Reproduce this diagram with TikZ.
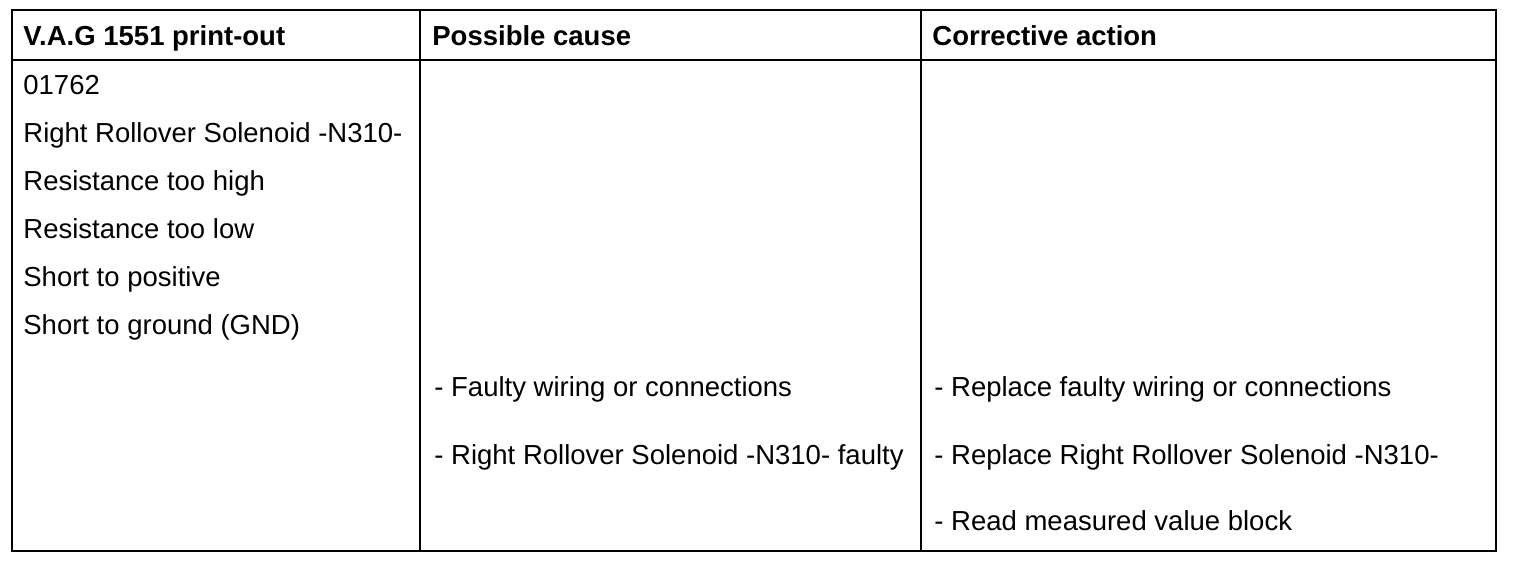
\documentclass[tikz,border=0pt]{standalone}
\usepackage{fontspec}
\setmainfont{Liberation Sans}
\usetikzlibrary{calc}
\newcommand{\cellfont}{\fontsize{13.75}{16}\selectfont}
\begin{document}
\begin{tikzpicture}[x=0.5pt,y=-0.5pt]
       \tikzstyle{cell} = [anchor=base west, inner sep=0pt, font=\cellfont];
       \tikzstyle{head} = [cell, font=\cellfont\bfseries];
       \tikzstyle{rule} = [line width=1pt];
       \useasboundingbox (0,0) rectangle (1520,562);
       % frame and column lines
       \coordinate (nw) at (12,10);
       \coordinate (se) at (1496,551);
       \draw[rule] (nw) rectangle (se);
       \draw[rule] (12,60) -- (1496,60);
       \draw[rule] (420,10) -- (420,551);
       \draw[rule] (921,10) -- (921,551);
       % header
       \node[head](vag) at (23,46) {V.A.G 1551 print-out};
       \node[head](cause) at (432,46) {Possible cause};
       \node[head](action) at (932,46) {Corrective action};
       % print-out
       \node[cell](code) at (23,94) {01762};
       \node[cell](solenoid) at (23,142) {Right Rollover Solenoid -N310-};
       \node[cell](high) at (23,190) {Resistance too high};
       \node[cell](low) at (23,238) {Resistance too low};
       \node[cell](pos) at (23,286) {Short to positive};
       \node[cell](gnd) at (23,334) {Short to ground (GND)};
       % causes
       \node[cell](wiring) at (434,396) {- Faulty wiring or connections};
       \node[cell](faulty) at (434,464) {- Right Rollover Solenoid -N310- faulty};
       % actions
       \node[cell](repwiring) at (934,396) {- Replace faulty wiring or connections};
       \node[cell](repsol) at (934,464) {- Replace Right Rollover Solenoid -N310-};
       \node[cell](readblock) at (934,530) {- Read measured value block};
     \end{tikzpicture}
\end{document}
